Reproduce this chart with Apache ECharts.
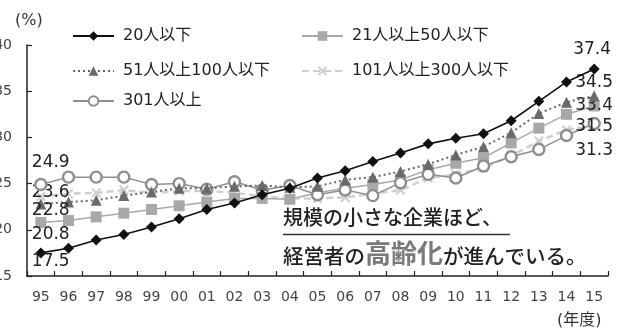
<!DOCTYPE html>
<html>
<head>
<meta charset="utf-8">
<script src="https://cdn.jsdelivr.net/npm/echarts@6/dist/echarts.min.js"></script>
<style>
  html, body { margin: 0; padding: 0; background: #fff; }
  #chart { width: 619px; height: 331px; }
</style>
</head>
<body>
<div id="chart"></div>
<script>
// Fiscal years (two-digit)
const years = ['95','96','97','98','99','00','01','02','03','04','05','06','07','08','09','10','11','12','13','14','15'];

// Share by company size (%)
const upTo20 = [17.5, 18.0, 18.9, 19.5, 20.3, 21.2, 22.2, 22.9, 23.8, 24.5, 25.6, 26.4, 27.4, 28.3, 29.3, 29.9, 30.4, 31.8, 33.9, 36.0, 37.4];
const from21to50 = [20.8, 21.0, 21.4, 21.8, 22.2, 22.6, 23.0, 23.4, 23.4, 23.3, 24.0, 24.5, 24.9, 25.4, 26.5, 27.2, 27.8, 29.4, 31.0, 32.5, 33.4];
const from51to100 = [22.8, 23.0, 23.2, 23.7, 24.1, 24.5, 24.5, 24.7, 24.8, 24.6, 24.7, 25.4, 25.7, 26.3, 27.1, 28.1, 29.0, 30.5, 32.6, 33.8, 34.5];
const from101to300 = [23.6, 23.9, 24.0, 24.3, 24.0, 24.2, 24.2, 24.0, 23.6, 23.4, 23.4, 23.5, 23.9, 24.3, 25.6, 26.0, 26.7, 28.0, 29.6, 30.8, 31.3];
const over301 = [24.9, 25.7, 25.7, 25.7, 24.9, 25.0, 24.4, 25.2, 24.3, 24.8, 23.8, 24.3, 23.7, 25.1, 26.0, 25.6, 26.9, 27.9, 28.7, 30.2, 31.5];

const seriesNames = ['20人以下', '21人以上50人以下', '51人以上100人以下', '101人以上300人以下', '301人以上'];

const NUM_FONT = '"DejaVu Sans", "Liberation Sans", sans-serif';
const JP_FONT = '"DejaVu Sans", "Noto Sans CJK JP", sans-serif';
const CROSS = 'path://M0,1.5 L1.5,0 L10,8.5 L8.5,10 Z M8.5,0 L10,1.5 L1.5,10 L0,8.5 Z';

// Attach value labels to the first and last points of a series.
function withEndLabels(values, first, last) {
  return values.map((v, i) => {
    const spec = i === 0 ? first : (i === values.length - 1 ? last : null);
    if (!spec) return v;
    return {
      value: v,
      label: {
        show: true,
        position: 'inside',
        align: 'left',
        verticalAlign: 'middle',
        offset: spec,
        formatter: v.toFixed(1),
        color: '#222',
        fontSize: 17,
        fontFamily: NUM_FONT
      }
    };
  });
}

const chart = echarts.init(document.getElementById('chart'), null, { renderer: 'canvas' });

const legendBase = {
  orient: 'horizontal',
  padding: 0,
  itemWidth: 41,
  itemHeight: 12,
  textStyle: { fontSize: 16, color: '#222', fontFamily: JP_FONT, padding: [0, 0, 0, 4], lineHeight: 18 }
};

chart.setOption({
  animation: false,
  backgroundColor: '#fff',
  grid: { left: 27, right: 11, top: 45, bottom: 55, containLabel: false, outerBoundsMode: 'none' },
  legend: [
    Object.assign({ data: [seriesNames[0]], left: 72, top: 27 }, legendBase),
    Object.assign({ data: [seriesNames[1]], left: 301, top: 27 }, legendBase),
    Object.assign({ data: [seriesNames[2]], left: 72, top: 62 }, legendBase),
    Object.assign({ data: [seriesNames[3]], left: 301, top: 62 }, legendBase),
    Object.assign({ data: [seriesNames[4]], left: 72, top: 92 }, legendBase)
  ],
  xAxis: {
    type: 'category',
    data: years,
    boundaryGap: true,
    axisLine: { lineStyle: { color: '#222', width: 1.5 } },
    axisTick: { show: true, inside: true, length: 5, lineStyle: { color: '#222', width: 1.2 } },
    axisLabel: { color: '#444', fontSize: 14, fontFamily: NUM_FONT, margin: 14, interval: 0 },
    splitLine: { show: false }
  },
  yAxis: {
    type: 'value',
    min: 15,
    max: 40,
    interval: 5,
    axisLine: { show: true, lineStyle: { color: '#222', width: 1.5 } },
    axisTick: { show: true, inside: true, length: 5, lineStyle: { color: '#222', width: 1.2 } },
    axisLabel: { color: '#444', fontSize: 14, fontFamily: NUM_FONT, margin: 15 },
    splitLine: { show: false }
  },
  series: [
    {
      name: seriesNames[3], type: 'line', z: 1,
      data: withEndLabels(from101to300, [-9, -3.5], [-19, 25.5]),
      symbol: CROSS, symbolSize: 10,
      lineStyle: { color: '#cfcfcf', width: 2.5, type: [7, 4] },
      itemStyle: { color: '#cfcfcf' }
    },
    {
      name: seriesNames[1], type: 'line', z: 2,
      data: withEndLabels(from21to50, [-9, 12.5], [-19, 0]),
      symbol: 'rect', symbolSize: 11,
      lineStyle: { color: '#a8a8a8', width: 1.5 },
      itemStyle: { color: '#a8a8a8' }
    },
    {
      name: seriesNames[4], type: 'line', z: 3,
      data: withEndLabels(over301, [-9, -21.5], [-19, 3]),
      symbol: 'circle', symbolSize: 11, showAllSymbol: true,
      lineStyle: { color: '#8e8e8e', width: 1.5 },
      itemStyle: { color: '#fff', borderColor: '#8e8e8e', borderWidth: 2.4 }
    },
    {
      name: seriesNames[2], type: 'line', z: 4,
      data: withEndLabels(from51to100, [-9, 7], [-19, -13]),
      symbol: 'triangle', symbolSize: 11,
      lineStyle: { color: '#666', width: 2, type: [2, 3] },
      itemStyle: { color: '#6a6a6a' }
    },
    {
      name: seriesNames[0], type: 'line', z: 5,
      data: withEndLabels(upTo20, [-9, 9], [-21, -19]),
      symbol: 'diamond', symbolSize: 11,
      lineStyle: { color: '#111', width: 1.6 },
      itemStyle: { color: '#111' }
    }
  ],
  graphic: [
    { type: 'text', left: 15, top: 13, style: { text: '(%)', font: '16px ' + JP_FONT, fill: '#333' } },
    { type: 'text', left: 557, top: 313, style: { text: '(年度)', font: '16px ' + JP_FONT, fill: '#333' } },
    {
      type: 'text', left: 283, top: 207, z: 10,
      style: { text: '規模の小さな企業ほど、', font: '500 20px "Noto Sans CJK JP", sans-serif', fill: '#222' }
    },
    {
      type: 'line', z: 10,
      shape: { x1: 283, y1: 234.5, x2: 510, y2: 234.5 },
      style: { stroke: '#333', lineWidth: 1.5 }
    },
    {
      type: 'text', left: 283, top: 240, z: 10,
      style: {
        text: '{a|経営者の}{b|高齢化}{a|が進んでいる。}',
        rich: {
          a: { font: '500 20.5px "Noto Sans CJK JP", sans-serif', fill: '#222', verticalAlign: 'bottom' },
          b: { font: 'bold 26px "Noto Sans CJK JP", sans-serif', fill: '#7a7a7a', verticalAlign: 'bottom' }
        }
      }
    }
  ]
});
</script>
</body>
</html>
